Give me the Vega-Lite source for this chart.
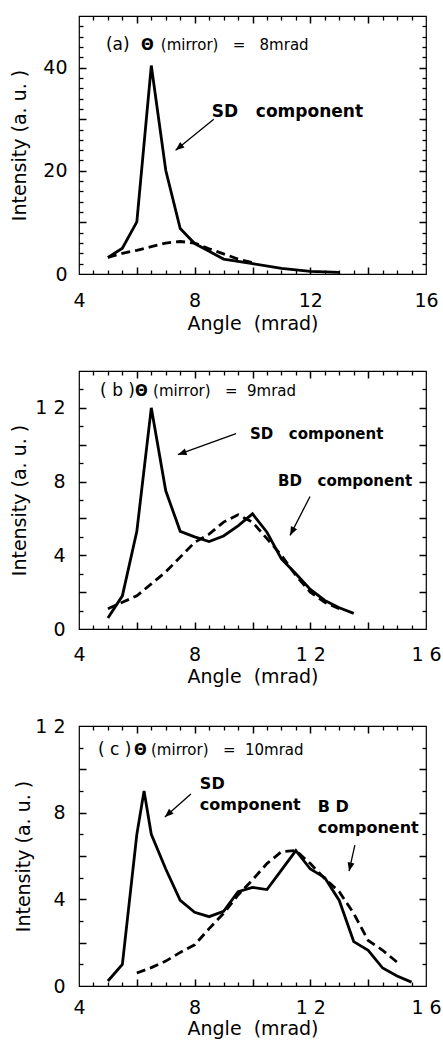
{
"$schema": "https://vega.github.io/schema/vega-lite/v6.json",
"padding": {"left": 10, "top": 14, "right": 2, "bottom": 2},
"background": "white",
"bounds": "flush",
"spacing": 97,
"config": {
  "view": {"stroke": "black", "strokeWidth": 1.2},
  "axis": {"labelFont": "DejaVu Sans", "labelFontSize": 19, "titleFont": "DejaVu Sans", "titleFontSize": 19, "titleFontWeight": "normal", "labelColor": "black", "titleColor": "black", "domain": false, "grid": false, "labelFlush": false, "labelOverlap": false},
  "text": {"font": "DejaVu Sans", "color": "black"}
},
"datasets": {
  "curves": [
    {"panel": "a", "curve": "total", "angle": 5, "intensity": 3.2},
    {"panel": "a", "curve": "total", "angle": 5.5, "intensity": 5.0},
    {"panel": "a", "curve": "total", "angle": 6, "intensity": 10.1},
    {"panel": "a", "curve": "total", "angle": 6.5, "intensity": 40.4},
    {"panel": "a", "curve": "total", "angle": 7, "intensity": 20.1},
    {"panel": "a", "curve": "total", "angle": 7.5, "intensity": 8.8},
    {"panel": "a", "curve": "total", "angle": 8, "intensity": 5.9},
    {"panel": "a", "curve": "total", "angle": 8.5, "intensity": 4.4},
    {"panel": "a", "curve": "total", "angle": 9, "intensity": 2.9},
    {"panel": "a", "curve": "total", "angle": 10, "intensity": 2.0},
    {"panel": "a", "curve": "total", "angle": 11, "intensity": 1.1},
    {"panel": "a", "curve": "total", "angle": 12, "intensity": 0.5},
    {"panel": "a", "curve": "total", "angle": 13, "intensity": 0.3},
    {"panel": "a", "curve": "bd", "angle": 5, "intensity": 3.2},
    {"panel": "a", "curve": "bd", "angle": 5.5, "intensity": 4.0},
    {"panel": "a", "curve": "bd", "angle": 6, "intensity": 4.6},
    {"panel": "a", "curve": "bd", "angle": 6.5, "intensity": 5.3},
    {"panel": "a", "curve": "bd", "angle": 7, "intensity": 6.0},
    {"panel": "a", "curve": "bd", "angle": 7.5, "intensity": 6.3},
    {"panel": "a", "curve": "bd", "angle": 8, "intensity": 6.0},
    {"panel": "a", "curve": "bd", "angle": 8.5, "intensity": 4.9},
    {"panel": "a", "curve": "bd", "angle": 9, "intensity": 3.9},
    {"panel": "a", "curve": "bd", "angle": 9.5, "intensity": 2.9},
    {"panel": "a", "curve": "bd", "angle": 10, "intensity": 2.2},
    {"panel": "b", "curve": "total", "angle": 5, "intensity": 0.6},
    {"panel": "b", "curve": "total", "angle": 5.5, "intensity": 1.8},
    {"panel": "b", "curve": "total", "angle": 6, "intensity": 5.3},
    {"panel": "b", "curve": "total", "angle": 6.5, "intensity": 12.0},
    {"panel": "b", "curve": "total", "angle": 7, "intensity": 7.5},
    {"panel": "b", "curve": "total", "angle": 7.5, "intensity": 5.3},
    {"panel": "b", "curve": "total", "angle": 8, "intensity": 5.0},
    {"panel": "b", "curve": "total", "angle": 8.5, "intensity": 4.75},
    {"panel": "b", "curve": "total", "angle": 9, "intensity": 5.05},
    {"panel": "b", "curve": "total", "angle": 9.5, "intensity": 5.6},
    {"panel": "b", "curve": "total", "angle": 10, "intensity": 6.25},
    {"panel": "b", "curve": "total", "angle": 10.5, "intensity": 5.25},
    {"panel": "b", "curve": "total", "angle": 11, "intensity": 3.8},
    {"panel": "b", "curve": "total", "angle": 11.5, "intensity": 3.0},
    {"panel": "b", "curve": "total", "angle": 12, "intensity": 2.15},
    {"panel": "b", "curve": "total", "angle": 12.5, "intensity": 1.55},
    {"panel": "b", "curve": "total", "angle": 13, "intensity": 1.15},
    {"panel": "b", "curve": "total", "angle": 13.5, "intensity": 0.85},
    {"panel": "b", "curve": "bd", "angle": 5, "intensity": 1.1},
    {"panel": "b", "curve": "bd", "angle": 5.5, "intensity": 1.45},
    {"panel": "b", "curve": "bd", "angle": 6, "intensity": 1.8},
    {"panel": "b", "curve": "bd", "angle": 6.5, "intensity": 2.45},
    {"panel": "b", "curve": "bd", "angle": 7, "intensity": 3.1},
    {"panel": "b", "curve": "bd", "angle": 7.5, "intensity": 3.9},
    {"panel": "b", "curve": "bd", "angle": 8, "intensity": 4.7},
    {"panel": "b", "curve": "bd", "angle": 8.5, "intensity": 5.15},
    {"panel": "b", "curve": "bd", "angle": 9, "intensity": 5.8},
    {"panel": "b", "curve": "bd", "angle": 9.5, "intensity": 6.2},
    {"panel": "b", "curve": "bd", "angle": 10, "intensity": 5.8},
    {"panel": "b", "curve": "bd", "angle": 10.5, "intensity": 4.9},
    {"panel": "b", "curve": "bd", "angle": 11, "intensity": 4.0},
    {"panel": "b", "curve": "bd", "angle": 11.5, "intensity": 2.9},
    {"panel": "b", "curve": "bd", "angle": 12, "intensity": 2.0},
    {"panel": "b", "curve": "bd", "angle": 12.5, "intensity": 1.45},
    {"panel": "b", "curve": "bd", "angle": 13, "intensity": 1.1},
    {"panel": "c", "curve": "total", "angle": 5, "intensity": 0.23},
    {"panel": "c", "curve": "total", "angle": 5.5, "intensity": 1.0},
    {"panel": "c", "curve": "total", "angle": 6, "intensity": 7.0},
    {"panel": "c", "curve": "total", "angle": 6.25, "intensity": 9.0},
    {"panel": "c", "curve": "total", "angle": 6.5, "intensity": 7.0},
    {"panel": "c", "curve": "total", "angle": 7, "intensity": 5.4},
    {"panel": "c", "curve": "total", "angle": 7.5, "intensity": 3.95},
    {"panel": "c", "curve": "total", "angle": 8, "intensity": 3.4},
    {"panel": "c", "curve": "total", "angle": 8.5, "intensity": 3.2},
    {"panel": "c", "curve": "total", "angle": 9, "intensity": 3.45},
    {"panel": "c", "curve": "total", "angle": 9.5, "intensity": 4.35},
    {"panel": "c", "curve": "total", "angle": 10, "intensity": 4.55},
    {"panel": "c", "curve": "total", "angle": 10.5, "intensity": 4.45},
    {"panel": "c", "curve": "total", "angle": 11, "intensity": 5.35},
    {"panel": "c", "curve": "total", "angle": 11.5, "intensity": 6.25},
    {"panel": "c", "curve": "total", "angle": 12, "intensity": 5.4},
    {"panel": "c", "curve": "total", "angle": 12.5, "intensity": 5.0},
    {"panel": "c", "curve": "total", "angle": 13, "intensity": 3.95},
    {"panel": "c", "curve": "total", "angle": 13.5, "intensity": 2.05},
    {"panel": "c", "curve": "total", "angle": 14, "intensity": 1.65},
    {"panel": "c", "curve": "total", "angle": 14.5, "intensity": 0.83},
    {"panel": "c", "curve": "total", "angle": 15, "intensity": 0.46},
    {"panel": "c", "curve": "total", "angle": 15.5, "intensity": 0.18},
    {"panel": "c", "curve": "bd", "angle": 6, "intensity": 0.6},
    {"panel": "c", "curve": "bd", "angle": 6.5, "intensity": 0.85},
    {"panel": "c", "curve": "bd", "angle": 7, "intensity": 1.15},
    {"panel": "c", "curve": "bd", "angle": 7.5, "intensity": 1.55},
    {"panel": "c", "curve": "bd", "angle": 8, "intensity": 1.9},
    {"panel": "c", "curve": "bd", "angle": 8.5, "intensity": 2.65},
    {"panel": "c", "curve": "bd", "angle": 9, "intensity": 3.35},
    {"panel": "c", "curve": "bd", "angle": 9.5, "intensity": 4.2},
    {"panel": "c", "curve": "bd", "angle": 10, "intensity": 4.9},
    {"panel": "c", "curve": "bd", "angle": 10.5, "intensity": 5.65},
    {"panel": "c", "curve": "bd", "angle": 11, "intensity": 6.2},
    {"panel": "c", "curve": "bd", "angle": 11.5, "intensity": 6.25},
    {"panel": "c", "curve": "bd", "angle": 12, "intensity": 5.65},
    {"panel": "c", "curve": "bd", "angle": 12.5, "intensity": 4.95},
    {"panel": "c", "curve": "bd", "angle": 13, "intensity": 4.35},
    {"panel": "c", "curve": "bd", "angle": 13.5, "intensity": 3.35},
    {"panel": "c", "curve": "bd", "angle": 14, "intensity": 2.1},
    {"panel": "c", "curve": "bd", "angle": 14.5, "intensity": 1.65},
    {"panel": "c", "curve": "bd", "angle": 15, "intensity": 1.1}
  ]
},
"vconcat": [
{
  "width": 347, "height": 258,
  "resolve": {"axis": {"x": "independent", "y": "independent"}},
  "layer": [
    {"data": {"name": "curves"}, "transform": [{"filter": "datum.panel === 'a' && datum.curve === 'total'"}],
     "mark": {"type": "line", "stroke": "black", "strokeWidth": 2.8, "strokeJoin": "miter"},
     "encoding": {
       "x": {"field": "angle", "type": "quantitative", "scale": {"domain": [4, 16], "nice": false, "zero": false},
             "axis": {"orient": "bottom", "values": [4, 8, 12, 16], "tickSize": 0, "tickWidth": 0, "labelPadding": 17, "title": "Angle\u00a0\u00a0(mrad)", "titlePadding": 4}},
       "y": {"field": "intensity", "type": "quantitative", "scale": {"domain": [0, 50], "nice": false},
             "axis": {"orient": "left", "values": [0, 20, 40], "tickSize": 0, "tickWidth": 0, "labelPadding": 12, "title": "Intensity (a. u. )", "titlePadding": 13}}
     }},
    {"data": {"name": "curves"}, "transform": [{"filter": "datum.panel === 'a' && datum.curve === 'bd'"}],
     "mark": {"type": "line", "stroke": "black", "strokeWidth": 2.8, "strokeDash": [9, 5]},
     "encoding": {
       "x": {"field": "angle", "type": "quantitative", "axis": {"orient": "top", "values": [6, 8, 10, 12, 14], "labels": false, "tickColor": "black", "tickWidth": 1.5, "tickSize": 7, "offset": -7, "title": null}},
       "y": {"field": "intensity", "type": "quantitative", "axis": {"orient": "right", "values": [10, 20, 30, 40], "labels": false, "tickColor": "black", "tickWidth": 1.5, "tickSize": 7, "offset": -7, "title": null}}
     }},
    {"data": {"values": [{}]}, "mark": {"type": "text", "text": "(a)", "fontSize": 17, "align": "left", "baseline": "middle"},
     "encoding": {
       "x": {"datum": 4.93, "type": "quantitative", "axis": {"orient": "bottom", "values": [6, 8, 10, 12, 14], "labels": false, "tickColor": "black", "tickWidth": 1.5, "tickSize": 7, "offset": -7, "title": null}},
       "y": {"datum": 44.3, "type": "quantitative", "axis": {"orient": "left", "values": [10, 20, 30, 40], "labels": false, "tickColor": "black", "tickWidth": 1.5, "tickSize": 7, "offset": -7, "title": null}}
     }},
    {"data": {"values": [{}]}, "mark": {"type": "text", "text": "Θ", "fontSize": 15, "fontWeight": "bold", "align": "left", "baseline": "middle"},
     "encoding": {
       "x": {"datum": 6.14, "type": "quantitative", "axis": {"orient": "top", "values": [4.5, 5, 5.5, 6.5, 7, 7.5, 8.5, 9, 9.5, 10.5, 11, 11.5, 12.5, 13, 13.5, 14.5, 15, 15.5], "labels": false, "tickColor": "black", "tickWidth": 1.3, "tickSize": 4, "offset": -4, "title": null}},
       "y": {"datum": 44.3, "type": "quantitative", "axis": {"orient": "right", "values": [2, 4, 6, 8, 12, 14, 16, 18, 22, 24, 26, 28, 32, 34, 36, 38, 42, 44, 46, 48], "labels": false, "tickColor": "black", "tickWidth": 1.3, "tickSize": 4, "offset": -4, "title": null}}
     }},
    {"data": {"values": [{}]}, "mark": {"type": "text", "text": "(mirror)\u00a0\u00a0\u00a0=\u00a0\u00a0\u00a08mrad", "fontSize": 15, "align": "left", "baseline": "middle"},
     "encoding": {
       "x": {"datum": 6.83, "type": "quantitative", "axis": {"orient": "bottom", "values": [4.5, 5, 5.5, 6.5, 7, 7.5, 8.5, 9, 9.5, 10.5, 11, 11.5, 12.5, 13, 13.5, 14.5, 15, 15.5], "labels": false, "tickColor": "black", "tickWidth": 1.3, "tickSize": 4, "offset": -4, "title": null}},
       "y": {"datum": 44.3, "type": "quantitative", "axis": {"orient": "left", "values": [2, 4, 6, 8, 12, 14, 16, 18, 22, 24, 26, 28, 32, 34, 36, 38, 42, 44, 46, 48], "labels": false, "tickColor": "black", "tickWidth": 1.3, "tickSize": 4, "offset": -4, "title": null}}
     }},
    {"data": {"values": [{}]}, "mark": {"type": "text", "text": "SD\u00a0\u00a0\u00a0component", "fontSize": 17, "fontWeight": "bold", "align": "left", "baseline": "middle"},
     "encoding": {"x": {"datum": 8.59, "type": "quantitative", "axis": null}, "y": {"datum": 31.3, "type": "quantitative", "axis": null}}},
    {"data": {"values": [{}]}, "mark": {"type": "rule", "stroke": "black", "strokeWidth": 1.3},
     "encoding": {"x": {"datum": 8.66, "type": "quantitative", "axis": null}, "y": {"datum": 30.0, "type": "quantitative", "axis": null}, "x2": {"datum": 7.34}, "y2": {"datum": 24.0}}},
    {"data": {"values": [{}]}, "mark": {"type": "point", "shape": "M0,0L-1,-0.4L-1,0.4Z", "filled": true, "color": "black", "opacity": 1, "size": 300, "angle": 141},
     "encoding": {"x": {"datum": 7.34, "type": "quantitative", "axis": null}, "y": {"datum": 24.0, "type": "quantitative", "axis": null}}}
  ]
},
{
  "width": 347, "height": 258,
  "resolve": {"axis": {"x": "independent", "y": "independent"}},
  "layer": [
    {"data": {"name": "curves"}, "transform": [{"filter": "datum.panel === 'b' && datum.curve === 'total'"}],
     "mark": {"type": "line", "stroke": "black", "strokeWidth": 2.8, "strokeJoin": "miter"},
     "encoding": {
       "x": {"field": "angle", "type": "quantitative", "scale": {"domain": [4, 16], "nice": false, "zero": false},
             "axis": {"orient": "bottom", "values": [4, 8, 12, 16], "labelExpr": "datum.value >= 10 ? '1 ' + (datum.value - 10) : datum.label", "tickSize": 0, "tickWidth": 0, "labelPadding": 16, "title": "Angle\u00a0\u00a0(mrad)", "titlePadding": 3}},
       "y": {"field": "intensity", "type": "quantitative", "scale": {"domain": [0, 14], "nice": false},
             "axis": {"orient": "left", "values": [0, 4, 8, 12], "labelExpr": "datum.value >= 10 ? '1 ' + (datum.value - 10) : datum.label", "tickSize": 0, "tickWidth": 0, "labelPadding": 14, "title": "Intensity (a. u. )", "titlePadding": 5}}
     }},
    {"data": {"name": "curves"}, "transform": [{"filter": "datum.panel === 'b' && datum.curve === 'bd'"}],
     "mark": {"type": "line", "stroke": "black", "strokeWidth": 2.8, "strokeDash": [9, 5]},
     "encoding": {
       "x": {"field": "angle", "type": "quantitative", "axis": {"orient": "top", "values": [6, 8, 10, 12, 14], "labels": false, "tickColor": "black", "tickWidth": 1.5, "tickSize": 7, "offset": -7, "title": null}},
       "y": {"field": "intensity", "type": "quantitative", "axis": {"orient": "right", "values": [2, 4, 6, 8, 10, 12], "labels": false, "tickColor": "black", "tickWidth": 1.5, "tickSize": 7, "offset": -7, "title": null}}
     }},
    {"data": {"values": [{}]}, "mark": {"type": "text", "text": "( b )", "fontSize": 17, "align": "left", "baseline": "middle"},
     "encoding": {
       "x": {"datum": 4.73, "type": "quantitative", "axis": {"orient": "bottom", "values": [6, 8, 10, 12, 14], "labels": false, "tickColor": "black", "tickWidth": 1.5, "tickSize": 7, "offset": -7, "title": null}},
       "y": {"datum": 12.9, "type": "quantitative", "axis": {"orient": "left", "values": [2, 4, 6, 8, 10, 12], "labels": false, "tickColor": "black", "tickWidth": 1.5, "tickSize": 7, "offset": -7, "title": null}}
     }},
    {"data": {"values": [{}]}, "mark": {"type": "text", "text": "Θ", "fontSize": 15, "fontWeight": "bold", "align": "left", "baseline": "middle"},
     "encoding": {
       "x": {"datum": 5.94, "type": "quantitative", "axis": {"orient": "top", "values": [4.5, 5, 5.5, 6.5, 7, 7.5, 8.5, 9, 9.5, 10.5, 11, 11.5, 12.5, 13, 13.5, 14.5, 15, 15.5], "labels": false, "tickColor": "black", "tickWidth": 1.3, "tickSize": 4, "offset": -4, "title": null}},
       "y": {"datum": 12.9, "type": "quantitative", "axis": {"orient": "right", "values": [1, 3, 5, 7, 9, 11, 13], "labels": false, "tickColor": "black", "tickWidth": 1.3, "tickSize": 4, "offset": -4, "title": null}}
     }},
    {"data": {"values": [{}]}, "mark": {"type": "text", "text": "(mirror)\u00a0\u00a0\u00a0=\u00a0\u00a09mrad", "fontSize": 15, "align": "left", "baseline": "middle"},
     "encoding": {
       "x": {"datum": 6.56, "type": "quantitative", "axis": {"orient": "bottom", "values": [4.5, 5, 5.5, 6.5, 7, 7.5, 8.5, 9, 9.5, 10.5, 11, 11.5, 12.5, 13, 13.5, 14.5, 15, 15.5], "labels": false, "tickColor": "black", "tickWidth": 1.3, "tickSize": 4, "offset": -4, "title": null}},
       "y": {"datum": 12.9, "type": "quantitative", "axis": {"orient": "left", "values": [1, 3, 5, 7, 9, 11, 13], "labels": false, "tickColor": "black", "tickWidth": 1.3, "tickSize": 4, "offset": -4, "title": null}}
     }},
    {"data": {"values": [{}]}, "mark": {"type": "text", "text": "SD\u00a0\u00a0\u00a0component", "fontSize": 15, "fontWeight": "bold", "align": "left", "baseline": "middle"},
     "encoding": {"x": {"datum": 9.91, "type": "quantitative", "axis": null}, "y": {"datum": 10.6, "type": "quantitative", "axis": null}}},
    {"data": {"values": [{}]}, "mark": {"type": "text", "text": "BD\u00a0\u00a0\u00a0component", "fontSize": 15, "fontWeight": "bold", "align": "left", "baseline": "middle"},
     "encoding": {"x": {"datum": 10.88, "type": "quantitative", "axis": null}, "y": {"datum": 8.05, "type": "quantitative", "axis": null}}},
    {"data": {"values": [{}]}, "mark": {"type": "rule", "stroke": "black", "strokeWidth": 1.3},
     "encoding": {"x": {"datum": 9.43, "type": "quantitative", "axis": null}, "y": {"datum": 10.6, "type": "quantitative", "axis": null}, "x2": {"datum": 7.42}, "y2": {"datum": 9.46}}},
    {"data": {"values": [{}]}, "mark": {"type": "point", "shape": "M0,0L-1,-0.4L-1,0.4Z", "filled": true, "color": "black", "opacity": 1, "size": 300, "angle": 160},
     "encoding": {"x": {"datum": 7.42, "type": "quantitative", "axis": null}, "y": {"datum": 9.46, "type": "quantitative", "axis": null}}},
    {"data": {"values": [{}]}, "mark": {"type": "rule", "stroke": "black", "strokeWidth": 1.3},
     "encoding": {"x": {"datum": 11.99, "type": "quantitative", "axis": null}, "y": {"datum": 7.19, "type": "quantitative", "axis": null}, "x2": {"datum": 11.3}, "y2": {"datum": 5.08}}},
    {"data": {"values": [{}]}, "mark": {"type": "point", "shape": "M0,0L-1,-0.4L-1,0.4Z", "filled": true, "color": "black", "opacity": 1, "size": 300, "angle": 117},
     "encoding": {"x": {"datum": 11.3, "type": "quantitative", "axis": null}, "y": {"datum": 5.08, "type": "quantitative", "axis": null}}}
  ]
},
{
  "width": 347, "height": 260,
  "resolve": {"axis": {"x": "independent", "y": "independent"}},
  "layer": [
    {"data": {"name": "curves"}, "transform": [{"filter": "datum.panel === 'c' && datum.curve === 'total'"}],
     "mark": {"type": "line", "stroke": "black", "strokeWidth": 2.8, "strokeJoin": "miter"},
     "encoding": {
       "x": {"field": "angle", "type": "quantitative", "scale": {"domain": [4, 16], "nice": false, "zero": false},
             "axis": {"orient": "bottom", "values": [4, 8, 12, 16], "labelExpr": "datum.value >= 10 ? '1 ' + (datum.value - 10) : datum.label", "tickSize": 0, "tickWidth": 0, "labelPadding": 12, "title": "Angle\u00a0\u00a0(mrad)", "titlePadding": 2}},
       "y": {"field": "intensity", "type": "quantitative", "scale": {"domain": [0, 12], "nice": false},
             "axis": {"orient": "left", "values": [0, 4, 8, 12], "labelExpr": "datum.value >= 10 ? '1 ' + (datum.value - 10) : datum.label", "tickSize": 0, "tickWidth": 0, "labelPadding": 14, "title": "Intensity (a. u. )", "titlePadding": 1}}
     }},
    {"data": {"name": "curves"}, "transform": [{"filter": "datum.panel === 'c' && datum.curve === 'bd'"}],
     "mark": {"type": "line", "stroke": "black", "strokeWidth": 2.8, "strokeDash": [9, 5]},
     "encoding": {
       "x": {"field": "angle", "type": "quantitative", "axis": {"orient": "top", "values": [6, 8, 10, 12, 14], "labels": false, "tickColor": "black", "tickWidth": 1.5, "tickSize": 7, "offset": -7, "title": null}},
       "y": {"field": "intensity", "type": "quantitative", "axis": {"orient": "right", "values": [2, 4, 6, 8, 10], "labels": false, "tickColor": "black", "tickWidth": 1.5, "tickSize": 7, "offset": -7, "title": null}}
     }},
    {"data": {"values": [{}]}, "mark": {"type": "text", "text": "( c )", "fontSize": 17, "align": "left", "baseline": "middle"},
     "encoding": {
       "x": {"datum": 4.66, "type": "quantitative", "axis": {"orient": "bottom", "values": [6, 8, 10, 12, 14], "labels": false, "tickColor": "black", "tickWidth": 1.5, "tickSize": 7, "offset": -7, "title": null}},
       "y": {"datum": 10.9, "type": "quantitative", "axis": {"orient": "left", "values": [2, 4, 6, 8, 10], "labels": false, "tickColor": "black", "tickWidth": 1.5, "tickSize": 7, "offset": -7, "title": null}}
     }},
    {"data": {"values": [{}]}, "mark": {"type": "text", "text": "Θ", "fontSize": 15, "fontWeight": "bold", "align": "left", "baseline": "middle"},
     "encoding": {
       "x": {"datum": 5.9, "type": "quantitative", "axis": {"orient": "top", "values": [4.5, 5, 5.5, 6.5, 7, 7.5, 8.5, 9, 9.5, 10.5, 11, 11.5, 12.5, 13, 13.5, 14.5, 15, 15.5], "labels": false, "tickColor": "black", "tickWidth": 1.3, "tickSize": 4, "offset": -4, "title": null}},
       "y": {"datum": 10.9, "type": "quantitative", "axis": {"orient": "right", "values": [1, 3, 5, 7, 9, 11], "labels": false, "tickColor": "black", "tickWidth": 1.3, "tickSize": 4, "offset": -4, "title": null}}
     }},
    {"data": {"values": [{}]}, "mark": {"type": "text", "text": "(mirror)\u00a0\u00a0\u00a0=\u00a0\u00a010mrad", "fontSize": 15, "align": "left", "baseline": "middle"},
     "encoding": {
       "x": {"datum": 6.49, "type": "quantitative", "axis": {"orient": "bottom", "values": [4.5, 5, 5.5, 6.5, 7, 7.5, 8.5, 9, 9.5, 10.5, 11, 11.5, 12.5, 13, 13.5, 14.5, 15, 15.5], "labels": false, "tickColor": "black", "tickWidth": 1.3, "tickSize": 4, "offset": -4, "title": null}},
       "y": {"datum": 10.9, "type": "quantitative", "axis": {"orient": "left", "values": [1, 3, 5, 7, 9, 11], "labels": false, "tickColor": "black", "tickWidth": 1.3, "tickSize": 4, "offset": -4, "title": null}}
     }},
    {"data": {"values": [{}]}, "mark": {"type": "text", "text": "SD", "fontSize": 16, "fontWeight": "bold", "align": "left", "baseline": "middle"},
     "encoding": {"x": {"datum": 8.18, "type": "quantitative", "axis": null}, "y": {"datum": 9.32, "type": "quantitative", "axis": null}}},
    {"data": {"values": [{}]}, "mark": {"type": "text", "text": "component", "fontSize": 16, "fontWeight": "bold", "align": "left", "baseline": "middle"},
     "encoding": {"x": {"datum": 8.18, "type": "quantitative", "axis": null}, "y": {"datum": 8.35, "type": "quantitative", "axis": null}}},
    {"data": {"values": [{}]}, "mark": {"type": "text", "text": "B D", "fontSize": 16, "fontWeight": "bold", "align": "left", "baseline": "middle"},
     "encoding": {"x": {"datum": 12.26, "type": "quantitative", "axis": null}, "y": {"datum": 8.26, "type": "quantitative", "axis": null}}},
    {"data": {"values": [{}]}, "mark": {"type": "text", "text": "component", "fontSize": 16, "fontWeight": "bold", "align": "left", "baseline": "middle"},
     "encoding": {"x": {"datum": 12.26, "type": "quantitative", "axis": null}, "y": {"datum": 7.29, "type": "quantitative", "axis": null}}},
    {"data": {"values": [{}]}, "mark": {"type": "rule", "stroke": "black", "strokeWidth": 1.3},
     "encoding": {"x": {"datum": 7.87, "type": "quantitative", "axis": null}, "y": {"datum": 8.86, "type": "quantitative", "axis": null}, "x2": {"datum": 6.97}, "y2": {"datum": 7.8}}},
    {"data": {"values": [{}]}, "mark": {"type": "point", "shape": "M0,0L-1,-0.4L-1,0.4Z", "filled": true, "color": "black", "opacity": 1, "size": 300, "angle": 138},
     "encoding": {"x": {"datum": 6.97, "type": "quantitative", "axis": null}, "y": {"datum": 7.8, "type": "quantitative", "axis": null}}},
    {"data": {"values": [{}]}, "mark": {"type": "rule", "stroke": "black", "strokeWidth": 1.3},
     "encoding": {"x": {"datum": 13.54, "type": "quantitative", "axis": null}, "y": {"datum": 6.5, "type": "quantitative", "axis": null}, "x2": {"datum": 13.34}, "y2": {"datum": 5.3}}},
    {"data": {"values": [{}]}, "mark": {"type": "point", "shape": "M0,0L-1,-0.4L-1,0.4Z", "filled": true, "color": "black", "opacity": 1, "size": 300, "angle": 103},
     "encoding": {"x": {"datum": 13.34, "type": "quantitative", "axis": null}, "y": {"datum": 5.3, "type": "quantitative", "axis": null}}}
  ]
}
]
}
